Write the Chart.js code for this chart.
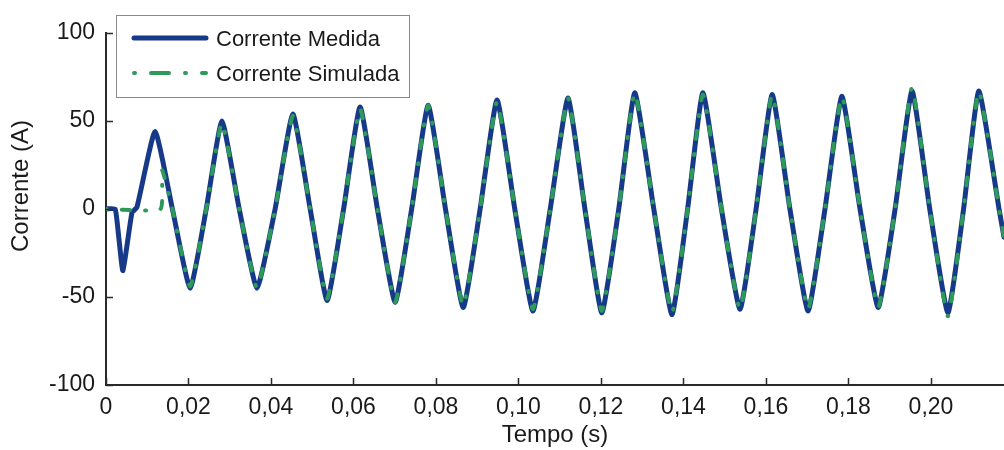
<!DOCTYPE html>
<html>
<head>
<meta charset="utf-8">
<script src="https://cdn.jsdelivr.net/npm/chart.js@4/dist/chart.umd.min.js"></script>
<style>
  html, body { margin: 0; padding: 0; background: #fff; }
  #wrap { width: 1004px; height: 450px; }
</style>
</head>
<body>
<div id="wrap"><canvas id="grafico" width="1004" height="450"></canvas></div>
<script>
// corrente medida (A) x tempo (s): picos, vales e passagens por zero
const tempoMedida = [
  0.0000, 0.0022, 0.0030, 0.0041, 0.0063, 0.0075, 0.0119, 0.0161,
  0.0204, 0.0243, 0.0281, 0.0323, 0.0366, 0.0410, 0.0453, 0.0495,
  0.0536, 0.0576, 0.0616, 0.0658, 0.0701, 0.0741, 0.0781, 0.0823,
  0.0866, 0.0907, 0.0948, 0.0991, 0.1035, 0.1077, 0.1120, 0.1161,
  0.1202, 0.1243, 0.1282, 0.1328, 0.1372, 0.1410, 0.1447, 0.1492,
  0.1537, 0.1576, 0.1615, 0.1658, 0.1702, 0.1743, 0.1784, 0.1828,
  0.1872, 0.1913, 0.1954, 0.1997, 0.2041, 0.2079, 0.2116, 0.2165, 0.2177
];
const correnteMedida = [
  0, 0, -14, -35, -2, 1, 44, 0,
  -45, 0, 50, 0, -45, 0, 54, 0,
  -52, 0, 58, 0, -53, 0, 59, 0,
  -56, 0, 62, 0, -58, 0, 63, 0,
  -59, 0, 66, 0, -60, 0, 66, 0,
  -57, 0, 65, 0, -58, 0, 64, 0,
  -56, 0, 67, 0, -59, 0, 67, 0, -16
];

// corrente simulada (A): parte do zero e entra em ~13 ms
const tempoSimulada = [
  0.0000, 0.0132, 0.0136, 0.0161,
  0.0204, 0.0243, 0.0281, 0.0323, 0.0366, 0.0410, 0.0453, 0.0495,
  0.0536, 0.0576, 0.0616, 0.0658, 0.0701, 0.0741, 0.0781, 0.0823,
  0.0866, 0.0907, 0.0948, 0.0991, 0.1035, 0.1077, 0.1120, 0.1161,
  0.1202, 0.1243, 0.1282, 0.1328, 0.1372, 0.1410, 0.1447, 0.1492,
  0.1537, 0.1576, 0.1615, 0.1658, 0.1702, 0.1743, 0.1784, 0.1828,
  0.1872, 0.1913, 0.1954, 0.1997, 0.2041, 0.2079, 0.2116, 0.2165, 0.2177
];
const correnteSimulada = [
  0, 0, 22, 0,
  -44, 0, 49, 0, -45, 0, 53, 0,
  -51, 0, 57, 0, -53, 0, 59, 0,
  -55, 0, 61, 0, -57, 0, 63, 0,
  -58, 0, 66, 0, -59, 0, 65, 0,
  -57, 0, 65, 0, -57, 0, 64, 0,
  -56, 0, 69, 0, -61, 0, 67, 0, -16
];

const xTicks = [0, 0.02, 0.04, 0.06, 0.08, 0.10, 0.12, 0.14, 0.16, 0.18, 0.20];
const xTickLabels = ['0', '0,02', '0,04', '0,06', '0,08', '0,10', '0,12', '0,14', '0,16', '0,18', '0,20'];
const yTicks = [-100, -50, 0, 50, 100];

const FONTE = 'Liberation Sans, Arial, sans-serif';
const AZUL = '#173a88';
const VERDE = '#2e9a5a';
const TEXTO = '#1a1a1a';
const EIXO = '#2a2a2a';

const pontos = (t, v) => t.map((x, i) => ({ x: x, y: v[i] }));

// marcas de escala para dentro do grafico, como no matlab
const marcasInternas = {
  id: 'marcasInternas',
  afterDraw(chart) {
    const { ctx, chartArea, scales } = chart;
    ctx.save();
    ctx.strokeStyle = EIXO;
    ctx.lineWidth = 1.5;
    ctx.beginPath();
    scales.x.ticks.forEach(t => {
      const px = Math.round(scales.x.getPixelForValue(t.value)) + 0.5;
      ctx.moveTo(px, chartArea.bottom);
      ctx.lineTo(px, chartArea.bottom - 7);
    });
    scales.y.ticks.forEach(t => {
      const py = Math.round(scales.y.getPixelForValue(t.value)) + 0.5;
      ctx.moveTo(chartArea.left, py);
      ctx.lineTo(chartArea.left + 7, py);
    });
    ctx.stroke();

    // titulo do eixo y
    ctx.fillStyle = TEXTO;
    ctx.font = '24px ' + FONTE;
    ctx.textAlign = 'center';
    ctx.textBaseline = 'middle';
    ctx.translate(21, 186);
    ctx.rotate(-Math.PI / 2);
    ctx.fillText('Corrente (A)', 0, 0);
    ctx.restore();
  }
};

// legenda com caixa no canto superior esquerdo
const legendaCaixa = {
  id: 'legendaCaixa',
  afterDraw(chart) {
    const { ctx } = chart;
    const ds = chart.data.datasets;
    const traco = [[], [1, 16, 18, 16]];
    ctx.save();
    ctx.fillStyle = '#fff';
    ctx.fillRect(116, 15, 293, 82);
    ctx.strokeStyle = '#8a8a8a';
    ctx.lineWidth = 1;
    ctx.strokeRect(116.5, 15.5, 293, 82);

    const linhas = [38, 73];
    ds.forEach((d, i) => {
      ctx.beginPath();
      ctx.strokeStyle = d.borderColor;
      ctx.lineWidth = d.borderWidth;
      ctx.lineCap = d.borderCapStyle;
      ctx.setLineDash(traco[i]);
      ctx.moveTo(134, linhas[i]);
      ctx.lineTo(206, linhas[i]);
      ctx.stroke();
      ctx.setLineDash([]);
      ctx.fillStyle = TEXTO;
      ctx.font = '22px ' + FONTE;
      ctx.textAlign = 'left';
      ctx.textBaseline = 'middle';
      ctx.fillText(d.label, 216, linhas[i] + 2);
    });
    ctx.restore();
  }
};

new Chart(document.getElementById('grafico'), {
  type: 'line',
  data: {
    datasets: [
      {
        label: 'Corrente Medida',
        data: pontos(tempoMedida, correnteMedida),
        borderColor: AZUL,
        borderWidth: 5,
        borderCapStyle: 'round',
        borderJoinStyle: 'round',
        tension: 0.15,
        pointRadius: 0,
        order: 1
      },
      {
        label: 'Corrente Simulada',
        data: pontos(tempoSimulada, correnteSimulada),
        borderColor: VERDE,
        borderWidth: 4,
        borderCapStyle: 'round',
        borderDash: [1, 15, 8, 15],
        tension: 0.15,
        pointRadius: 0,
        order: 0
      }
    ]
  },
  options: {
    responsive: false,
    devicePixelRatio: 1,
    animation: false,
    layout: { padding: { top: 33, right: 0, left: 0, bottom: 0 } },
    plugins: {
      legend: { display: false },
      tooltip: { enabled: false }
    },
    scales: {
      x: {
        type: 'linear',
        min: 0,
        max: 0.2177,
        afterBuildTicks: s => { s.ticks = xTicks.map(v => ({ value: v })); },
        afterFit: s => { s.height = 65; },
        grid: { display: false, drawTicks: false },
        border: { display: true, color: EIXO, width: 2 },
        ticks: {
          padding: 9,
          maxRotation: 0,
          autoSkip: false,
          color: TEXTO,
          font: { family: FONTE, size: 23 },
          callback: (v, i) => xTickLabels[i]
        },
        title: {
          display: true,
          text: 'Tempo (s)',
          color: TEXTO,
          font: { family: FONTE, size: 24 },
          padding: { top: 0, bottom: 0 }
        }
      },
      y: {
        min: -100,
        max: 100,
        afterBuildTicks: s => { s.ticks = yTicks.map(v => ({ value: v })); },
        afterFit: s => { s.width = 106; },
        grid: { display: false, drawTicks: false },
        border: { display: true, color: EIXO, width: 2 },
        ticks: {
          padding: 11,
          color: TEXTO,
          font: { family: FONTE, size: 23 }
        }
      }
    }
  },
  plugins: [marcasInternas, legendaCaixa]
});
</script>
</body>
</html>
